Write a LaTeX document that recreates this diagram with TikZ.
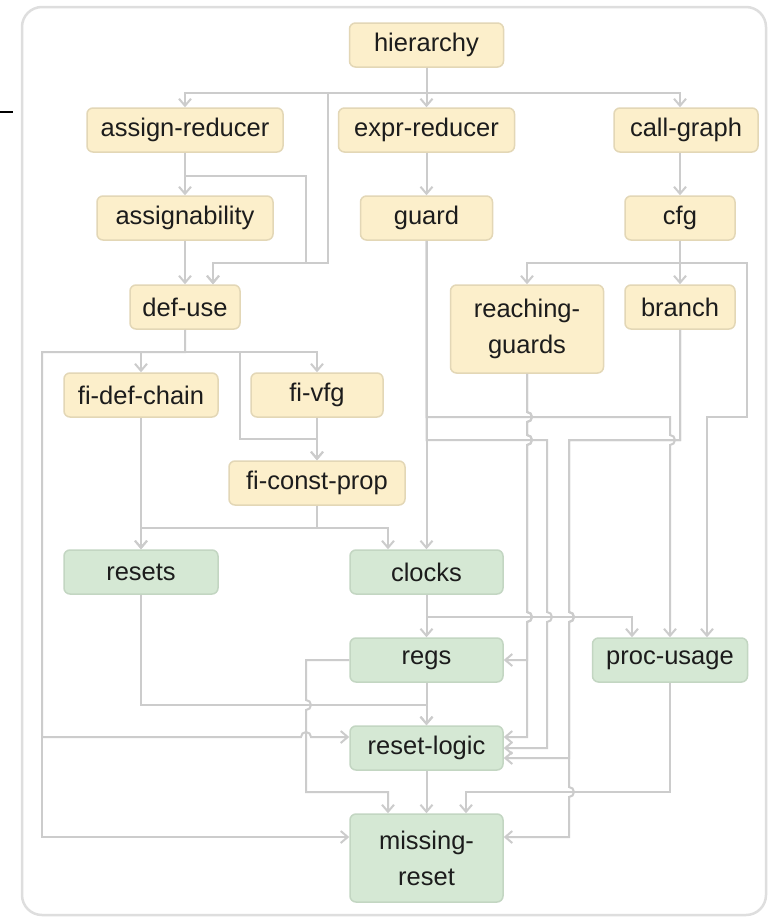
\documentclass[tikz,border=0pt]{standalone}
\usepackage{fontspec}
\setmainfont{Liberation Sans}
\usetikzlibrary{arrows.meta}
\definecolor{edgegray}{HTML}{CCCCCC}
\definecolor{framegray}{HTML}{DEDEDE}
\definecolor{yelfill}{HTML}{FCEFCB}
\definecolor{yelline}{HTML}{E3D7B6}
\definecolor{grnfill}{HTML}{D5E8D4}
\definecolor{grnline}{HTML}{C3D6C2}
\definecolor{textdark}{HTML}{1C1C1C}
\begin{document}
\begin{tikzpicture}[x=1pt,y=-1pt,
  box/.style={rounded corners=6pt, line width=1.5pt, minimum height=44pt, inner sep=0pt,
    align=center, font=\fontsize{25.5}{36}\selectfont, text=textdark},
  yel/.style={box, fill=yelfill, draw=yelline},
  grn/.style={box, fill=grnfill, draw=grnline},
  wire/.style={draw=edgegray, line width=2pt},
  edge/.style={wire, -{Straight Barb[length=7pt,width=12pt]}}
]
\useasboundingbox (0,0) rectangle (769,919);
% outer panel
\draw[framegray, line width=2.5pt, fill=white, rounded corners=20pt] (22,7) rectangle (766,915);
\draw[black, line width=2pt] (0,112) -- (13,112);

% analysis passes (yellow)
\node[yel, minimum width=154pt] (hier)    at (426.5,45)  {hierarchy};
\node[yel, minimum width=196pt] (asgred)  at (185,130)   {assign-reducer};
\node[yel, minimum width=176pt] (exprred) at (426.5,130) {expr-reducer};
\node[yel, minimum width=144pt] (callg)   at (686,130)   {call-graph};
\node[yel, minimum width=176pt] (asgn)    at (185,218)   {assignability};
\node[yel, minimum width=132pt] (guard)   at (426.5,218) {guard};
\node[yel, minimum width=110pt] (cfg)     at (680,218)   {cfg};
\node[yel, minimum width=110pt] (defuse)  at (185,307)   {def-use};
\node[yel, minimum width=153pt, minimum height=88pt] (reachg) at (527,329) {reaching-\\guards};
\node[yel, minimum width=110pt] (branch)  at (680,307)   {branch};
\node[yel, minimum width=154pt] (fidef)   at (141,395)   {fi-def-chain};
\node[yel, minimum width=132pt] (fivfg)   at (317,395)   {fi-vfg};
\node[yel, minimum width=176pt] (ficp)    at (317,483)   {fi-const-prop};

% checks (green)
\node[grn, minimum width=154pt] (resets)  at (141,572)   {resets};
\node[grn, minimum width=153pt] (clocks)  at (426.5,572) {clocks};
\node[grn, minimum width=153pt] (regs)    at (426.5,660) {regs};
\node[grn, minimum width=155pt] (procu)   at (670,660)   {proc-usage};
\node[grn, minimum width=153pt] (rlogic)  at (426.5,748) {reset-logic};
\node[grn, minimum width=153pt, minimum height=88pt] (mreset) at (426.5,858) {missing-\\reset};

% hierarchy fan-out
\draw[edge] (hier.south) -- (426.5,93) -| (asgred.north);
\draw[edge] (hier.south) -- (exprred.north);
\draw[edge] (hier.south) -- (426.5,93) -| ([xshift=-6pt]callg.north);
\draw[edge] (hier.south) -- (426.5,93) -| (328,263) -| ([xshift=28pt]defuse.north);

% left column
\draw[edge] (asgred.south) -- (asgn.north);
\draw[edge] (asgred.south) -- (185,176) -| (306,263) -| ([xshift=28pt]defuse.north);
\draw[edge] (asgn.south) -- (defuse.north);
\draw[edge] (exprred.south) -- (guard.north);
\draw[edge] ([xshift=-6pt]callg.south) -- (cfg.north);
\draw[edge] (cfg.south) -- (branch.north);
\draw[edge] (cfg.south) -- (680,263) -| (reachg.north);
\draw[edge] (cfg.south) -- (680,263) -| (747,417) -| ([xshift=37pt]procu.north);

\draw[edge] (defuse.south) -- (185,352) -| (fidef.north);
\draw[edge] (defuse.south) -- (185,352) -| (fivfg.north);
\draw[edge] (defuse.south) -- (185,352) -| (240,439) -| (ficp.north);
\draw[edge] (fivfg.south) -- (ficp.north);
\draw[edge] (defuse.south) -- (185,352) -| (42,737) -- (301,737) arc (180:360:5)
  -- ([yshift=11pt]rlogic.west);
\draw[edge] (defuse.south) -- (185,352) -| (42,837) -- ([yshift=21pt]mreset.west);

\draw[edge] (fidef.south) -- (resets.north);
\draw[edge] (ficp.south) -- (317,528) -| (resets.north);
\draw[edge] (ficp.south) -- (317,528) -| ([xshift=-38.5pt]clocks.north);

% guard fan-out
\draw[edge] (guard.south) -- (clocks.north);
\draw[edge] (guard.south) -- (426.5,417) -- (670,417) -- (670,435) arc (-90:90:5)
  -- (procu.north);
\draw[edge] (guard.south) -- (426.5,440) -- (547,440) -- (547,612) arc (-90:90:5)
  |- (rlogic.east);

% reaching-guards
\draw[edge] (reachg.south) -- (527,412) arc (-90:90:5) -- (527,435) arc (-90:90:5)
  -- (527,612) arc (-90:90:5) |- (regs.east);
\draw[edge] (reachg.south) -- (527,412) arc (-90:90:5) -- (527,435) arc (-90:90:5)
  -- (527,612) arc (-90:90:5) |- ([yshift=11pt]rlogic.east);

% branch
\draw[edge] (branch.south) -- (680,440) -- (569,440) -- (569,612) arc (-90:90:5)
  |- ([yshift=-10pt]rlogic.east);
\draw[edge] (branch.south) -- (680,440) -- (569,440) -- (569,612) arc (-90:90:5)
  -- (569,787) arc (-90:90:5) |- ([yshift=21pt]mreset.east);

% checks
\draw[edge] (clocks.south) -- (regs.north);
\draw[edge] (clocks.south) -- (426.5,617) -- (632,617) -- ([xshift=-38pt]procu.north);
\draw[edge] (resets.south) -- (141,705) -- (426.5,705) -- (rlogic.north);
\draw[edge] (regs.south) -- (rlogic.north);
\draw[edge] (regs.west) -- (306,660) -- (306,700) arc (-90:90:5) -- (306,792)
  -| ([xshift=-38.5pt]mreset.north);
\draw[edge] (rlogic.south) -- (mreset.north);
\draw[edge] (procu.south) -- (670,792) -| ([xshift=39.5pt]mreset.north);
\end{tikzpicture}
\end{document}
